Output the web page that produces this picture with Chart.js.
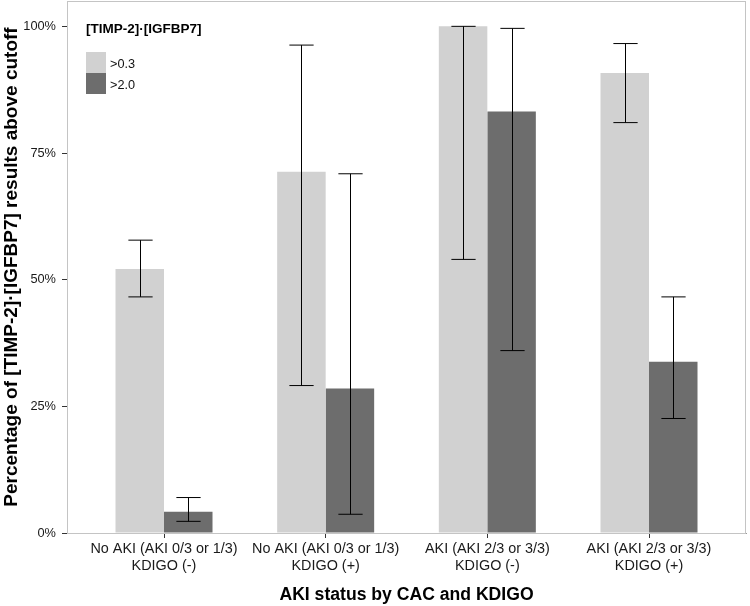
<!DOCTYPE html>
<html>
<head>
<meta charset="utf-8">
<script src="https://cdn.jsdelivr.net/npm/chart.js@4.4.1/dist/chart.umd.min.js"></script>
<style>
  html, body { margin: 0; padding: 0; background: #fff; }
  #wrap { width: 750px; height: 606px; }
</style>
</head>
<body>
<div id="wrap"><canvas id="aki" width="750" height="606"></canvas></div>
<script>
// data
const categories = [
    ['No AKI (AKI 0/3 or 1/3)', 'KDIGO (-)'],
    ['No AKI (AKI 0/3 or 1/3)', 'KDIGO (+)'],
    ['AKI (AKI 2/3 or 3/3)', 'KDIGO (-)'],
    ['AKI (AKI 2/3 or 3/3)', 'KDIGO (+)']
];
const seriesNames = ['>0.3', '>2.0'];
const above03 = [52.1, 71.3, 100, 90.8];
const above03Lo = [46.6, 29.1, 54.0, 81.0];
const above03Hi = [57.8, 96.3, 100, 96.6];
const above20 = [4.2, 28.5, 83.2, 33.8];
const above20Lo = [2.3, 3.7, 36.0, 22.6];
const above20Hi = [7.0, 70.9, 99.6, 46.6];
const yTicks = [0, 25, 50, 75, 100];

const FONT = "'Liberation Sans', Arial, sans-serif";
const errLo = [above03Lo, above20Lo];
const errHi = [above03Hi, above20Hi];

function toPoints(vals) {
    return vals.map((v, i) => ({ x: i + 1, y: v }));
}

// no extra room for edge labels, the panel is fixed
function noPad(scale) {
    scale.paddingTop = 0;
    scale.paddingBottom = 0;
    scale.paddingLeft = 0;
    scale.paddingRight = 0;
}

// panel frame + error bars + legend
const errorBars = {
    id: 'errorBars',
    beforeDatasetsDraw(chart) {
        const a = chart.chartArea;
        const c = chart.ctx;
        c.save();
        c.strokeStyle = '#c4c4c4';
        c.lineWidth = 1;
        c.strokeRect(a.left + 0.5, a.top + 0.5, a.right - a.left - 1, a.bottom - a.top);
        c.restore();
    },
    afterDatasetsDraw(chart) {
        const c = chart.ctx;
        const y = chart.scales.y;
        c.save();
        c.strokeStyle = '#000';
        c.lineWidth = 1;
        chart.data.datasets.forEach((ds, i) => {
            chart.getDatasetMeta(i).data.forEach((bar, j) => {
                const x = Math.round(bar.x) + 0.5;
                const top = y.getPixelForValue(errHi[i][j]);
                const bot = y.getPixelForValue(errLo[i][j]);
                const half = bar.width / 4;
                c.beginPath();
                c.moveTo(x, top); c.lineTo(x, bot);
                c.moveTo(x - half, top); c.lineTo(x + half, top);
                c.moveTo(x - half, bot); c.lineTo(x + half, bot);
                c.stroke();
            });
        });
        c.restore();
    },
    afterDraw(chart) {
        const a = chart.chartArea;
        const c = chart.ctx;
        const lx = a.left + 19, ly = a.top + 28;
        c.save();
        c.fillStyle = '#000';
        c.textBaseline = 'middle';
        c.font = 'bold 13.5px ' + FONT;
        c.fillText('[TIMP-2]·[IGFBP7]', lx, ly);
        c.font = '12.7px ' + FONT;
        chart.data.datasets.forEach((ds, i) => {
            const sy = ly + 23 + i * 21;
            c.fillStyle = ds.backgroundColor;
            c.fillRect(lx, sy, 20, 21);
            c.fillStyle = '#111';
            c.fillText(ds.label, lx + 24, sy + 12);
        });
        c.restore();
    }
};

new Chart(document.getElementById('aki'), {
    type: 'bar',
    data: {
        datasets: [
            {
                label: seriesNames[0],
                data: toPoints(above03),
                backgroundColor: '#d1d1d1',
                categoryPercentage: 0.6,
                barPercentage: 1.0
            },
            {
                label: seriesNames[1],
                data: toPoints(above20),
                backgroundColor: '#6d6d6d',
                categoryPercentage: 0.6,
                barPercentage: 1.0
            }
        ]
    },
    options: {
        responsive: false,
        animation: false,
        devicePixelRatio: 1,
        layout: { padding: { top: 1, right: 4, left: 0, bottom: 0 } },
        plugins: {
            legend: { display: false },
            tooltip: { enabled: false }
        },
        scales: {
            x: {
                type: 'linear',
                min: 0.4,
                max: 4.6,
                offset: false,
                afterFit(scale) { scale.height = 73; noPad(scale); },
                afterBuildTicks(scale) {
                    scale.ticks = categories.map((c, i) => ({ value: i + 1 }));
                },
                grid: { offset: false, drawOnChartArea: false, tickLength: 5, tickColor: '#333' },
                border: { color: '#999' },
                ticks: {
                    autoSkip: false,
                    maxRotation: 0,
                    padding: 3,
                    color: '#1a1a1a',
                    font: { family: FONT, size: 14.4, lineHeight: 1.15 },
                    callback: (v) => categories[Math.round(v) - 1]
                },
                title: {
                    display: true,
                    text: 'AKI status by CAC and KDIGO',
                    color: '#000',
                    padding: { top: 0, bottom: 0 },
                    font: { family: FONT, size: 17.6, weight: 'bold', lineHeight: 1.2 }
                }
            },
            y: {
                min: 0,
                max: 105,
                afterFit(scale) { scale.width = 67; noPad(scale); },
                afterBuildTicks(scale) {
                    scale.ticks = yTicks.map(v => ({ value: v }));
                },
                grid: { drawOnChartArea: false, tickLength: 5, tickColor: '#333' },
                border: { color: '#999' },
                ticks: {
                    padding: 6,
                    color: '#1a1a1a',
                    font: { family: FONT, size: 12.8 },
                    callback: (v) => v + '%'
                },
                title: {
                    display: true,
                    text: 'Percentage of [TIMP-2]·[IGFBP7] results above cutoff',
                    color: '#000',
                    padding: { top: 0, bottom: 0 },
                    font: { family: FONT, size: 19, weight: 'bold', lineHeight: 1.2 }
                }
            }
        }
    },
    plugins: [errorBars]
});
</script>
</body>
</html>
